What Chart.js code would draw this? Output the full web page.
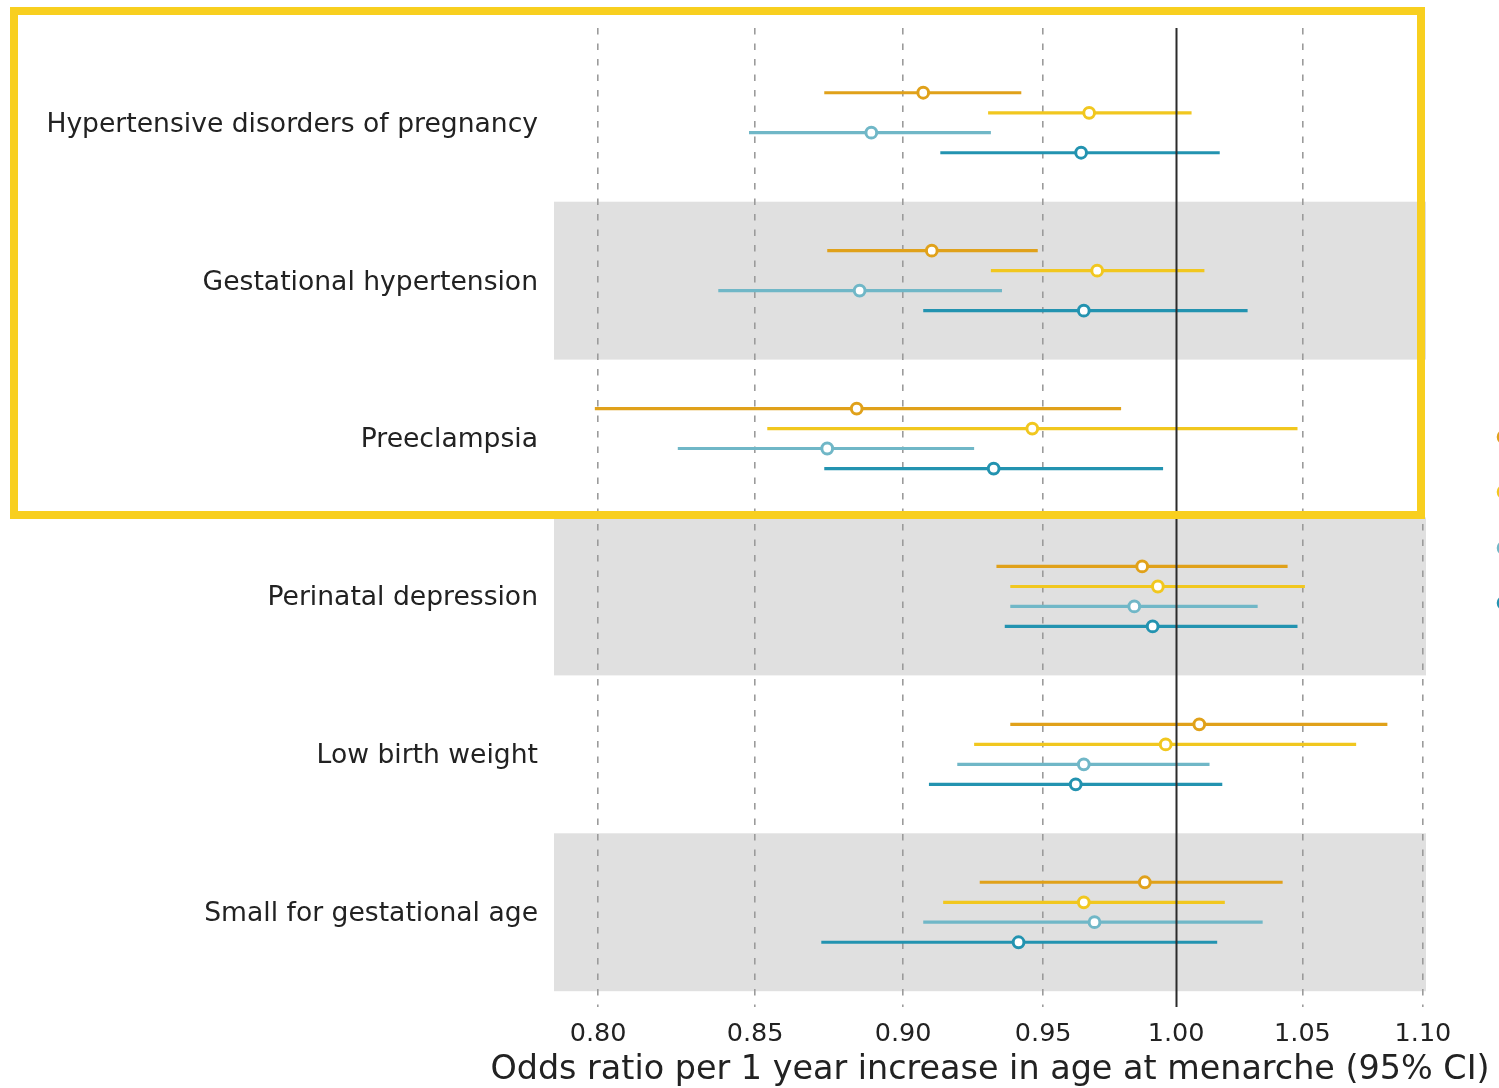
<!DOCTYPE html>
<html>
<head>
<meta charset="utf-8">
<title>Age at menarche and pregnancy outcomes</title>
<script src="https://cdn.jsdelivr.net/npm/chart.js@4.4.1/dist/chart.umd.min.js"></script>
<style>
  html, body { margin: 0; padding: 0; background: #ffffff; }
  canvas { display: block; }
</style>
</head>
<body>
<canvas id="forest" width="1499" height="1088"></canvas>
<script>
// Outcomes, top to bottom
const categories = [
  'Hypertensive disorders of pregnancy',
  'Gestational hypertension',
  'Preeclampsia',
  'Perinatal depression',
  'Low birth weight',
  'Small for gestational age'
];

// Odds ratios and 95% CI bounds, one array per analysis
const estA = [0.907, 0.910, 0.884, 0.987, 1.009, 0.988];
const lowA = [0.873, 0.874, 0.799, 0.933, 0.938, 0.927];
const highA = [0.942, 0.948, 0.979, 1.044, 1.085, 1.042];

const estB = [0.967, 0.970, 0.946, 0.993, 0.996, 0.965];
const lowB = [0.930, 0.931, 0.854, 0.938, 0.925, 0.914];
const highB = [1.006, 1.011, 1.048, 1.051, 1.072, 1.019];

const estC = [0.889, 0.885, 0.874, 0.984, 0.965, 0.969];
const lowC = [0.848, 0.838, 0.825, 0.938, 0.919, 0.907];
const highC = [0.931, 0.935, 0.925, 1.032, 1.013, 1.034];

const estD = [0.964, 0.965, 0.932, 0.991, 0.962, 0.941];
const lowD = [0.913, 0.907, 0.873, 0.936, 0.909, 0.872];
const highD = [1.017, 1.028, 0.995, 1.048, 1.018, 1.016];

const xTickValues = [0.80, 0.85, 0.90, 0.95, 1.00, 1.05, 1.10];
const xTitle = 'Odds ratio per 1 year increase in age at menarche (95% CI)';

const FONT = '"DejaVu Sans", "Liberation Sans", sans-serif';
const colors = ['#e0a11a', '#f1c71f', '#70b7c7', '#2393b0'];
const rowOffsets = [-0.19, -0.063, 0.063, 0.19];

const series = [
  { label: 'Analysis 1', est: estA, lo: lowA, hi: highA },
  { label: 'Analysis 2', est: estB, lo: lowB, hi: highB },
  { label: 'Analysis 3', est: estC, lo: lowC, hi: highC },
  { label: 'Analysis 4', est: estD, lo: lowD, hi: highD }
];

const datasets = series.map((s, k) => ({
  label: s.label,
  data: s.est.map((v, i) => ({ x: v, y: i + rowOffsets[k] })),
  ciLow: s.lo,
  ciHigh: s.hi,
  ciOffset: rowOffsets[k],
  pointRadius: 5.4,
  pointHoverRadius: 5.4,
  pointBorderWidth: 3,
  pointBackgroundColor: '#ffffff',
  pointBorderColor: colors[k],
  borderColor: colors[k],
  backgroundColor: '#ffffff',
  showLine: false
}));

// Alternating shaded rows behind the grid
const rowBands = {
  id: 'rowBands',
  beforeDraw(chart) {
    const { ctx, chartArea } = chart;
    const y = chart.scales.y;
    ctx.save();
    ctx.fillStyle = '#e0e0e0';
    categories.forEach((_, i) => {
      if (i % 2 === 1) {
        const top = y.getPixelForValue(i - 0.5);
        const bottom = y.getPixelForValue(i + 0.5);
        ctx.fillRect(chartArea.left, top, chartArea.right - chartArea.left, bottom - top);
      }
    });
    ctx.restore();
  }
};

// Confidence interval whiskers and the null line at OR = 1
const ciLines = {
  id: 'ciLines',
  beforeDatasetsDraw(chart) {
    const { ctx, chartArea } = chart;
    const xs = chart.scales.x, ys = chart.scales.y;
    ctx.save();
    ctx.lineWidth = 3.2;
    ctx.lineCap = 'butt';
    chart.data.datasets.forEach(ds => {
      ctx.strokeStyle = ds.borderColor;
      ds.ciLow.forEach((lo, i) => {
        const py = ys.getPixelForValue(i + ds.ciOffset);
        ctx.beginPath();
        ctx.moveTo(xs.getPixelForValue(lo), py);
        ctx.lineTo(xs.getPixelForValue(ds.ciHigh[i]), py);
        ctx.stroke();
      });
    });
    const x1 = Math.round(xs.getPixelForValue(1)) + 0.5;
    ctx.strokeStyle = '#2b2b2b';
    ctx.lineWidth = 2;
    ctx.beginPath();
    ctx.moveTo(x1, chartArea.top);
    ctx.lineTo(x1, chartArea.bottom);
    ctx.stroke();
    ctx.restore();
  }
};

// Axis title (wider than the plot), highlight frame and the legend markers at the edge
const overlay = {
  id: 'overlay',
  afterDraw(chart) {
    const { ctx, width, chartArea } = chart;
    ctx.save();
    ctx.fillStyle = '#222222';
    ctx.font = '33.4px ' + FONT;
    ctx.textAlign = 'center';
    ctx.textBaseline = 'middle';
    ctx.fillText(xTitle, (chartArea.left + chartArea.right) / 2, chartArea.bottom + 63);

    ctx.strokeStyle = '#f8cf1f';
    ctx.lineWidth = 8;
    ctx.strokeRect(14, 11, 1407, 504);

    const legendY = [437, 492, 548, 603];
    colors.forEach((c, k) => {
      ctx.beginPath();
      ctx.arc(width + 5, legendY[k], 6, 0, Math.PI * 2);
      ctx.fillStyle = '#ffffff';
      ctx.fill();
      ctx.lineWidth = 2.6;
      ctx.strokeStyle = c;
      ctx.stroke();
    });
    ctx.restore();
  }
};

function noEdgePadding(scale) {
  scale.paddingTop = 0;
  scale.paddingBottom = 0;
  scale.paddingLeft = 0;
  scale.paddingRight = 0;
}

new Chart(document.getElementById('forest'), {
  type: 'scatter',
  data: { datasets },
  plugins: [rowBands, ciLines, overlay],
  options: {
    responsive: false,
    animation: false,
    devicePixelRatio: 1,
    layout: { padding: { top: 28, right: 73, left: 0, bottom: 0 } },
    plugins: {
      legend: { display: false },
      tooltip: { enabled: false }
    },
    scales: {
      x: {
        type: 'logarithmic',
        position: 'bottom',
        min: 0.7865,
        max: 1.1013,
        afterBuildTicks(scale) {
          scale.ticks = xTickValues.map(v => ({ value: v }));
        },
        afterFit(scale) { scale.height = 81; noEdgePadding(scale); },
        ticks: {
          autoSkip: false,
          maxRotation: 0,
          padding: 12,
          color: '#222222',
          font: { family: FONT, size: 25.5 },
          callback: v => Number(v).toFixed(2)
        },
        grid: {
          drawTicks: false,
          lineWidth: 1.6,
          color: c => (c.tick && c.tick.value === 1 ? 'rgba(0,0,0,0)' : '#9b9b9b')
        },
        border: { display: false, dash: [6.5, 9] },
        title: { display: false }
      },
      y: {
        type: 'linear',
        reverse: true,
        min: -0.6,
        max: 5.6,
        afterBuildTicks(scale) {
          scale.ticks = categories.map((_, i) => ({ value: i }));
        },
        afterFit(scale) { scale.width = 554; noEdgePadding(scale); },
        ticks: {
          autoSkip: false,
          padding: 16,
          labelOffset: 2,
          color: '#222222',
          font: { family: FONT, size: 26.6 },
          callback: v => categories[v]
        },
        grid: { display: false, drawTicks: false },
        border: { display: false }
      }
    }
  }
});
</script>
</body>
</html>
